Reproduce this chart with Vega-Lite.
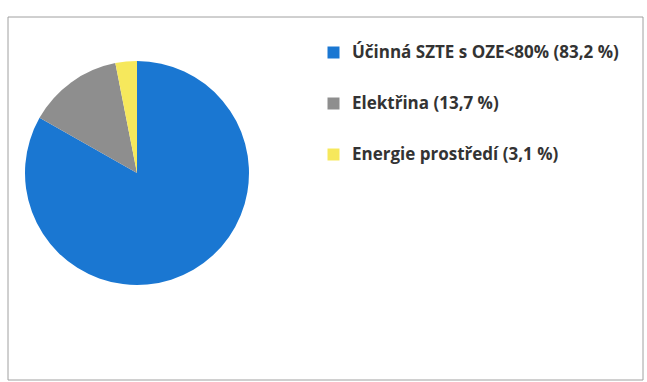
{
  "$schema": "https://vega.github.io/schema/vega-lite/v6.json",
  "width": 635,
  "height": 363,
  "autosize": "none",
  "padding": {"left": 8, "top": 17, "right": 4, "bottom": 2},
  "background": "white",
  "config": {"view": {"stroke": null}},
  "data": {"values": [
    {"kategorie": "Účinná SZTE s OZE<80% (83,2 %)", "podil": 83.2, "poradi": 1},
    {"kategorie": "Elektřina (13,7 %)", "podil": 13.7, "poradi": 2},
    {"kategorie": "Energie prostředí (3,1 %)", "podil": 3.1, "poradi": 3}
  ]},
  "layer": [
    {
      "data": {"values": [{"ram": 1}]},
      "mark": {"type": "rect", "fill": null, "stroke": "#a0a0a0", "strokeWidth": 1},
      "encoding": {}
    },
    {
      "mark": {"type": "arc", "outerRadius": 112, "x": 129, "y": 156},
      "encoding": {
        "theta": {"field": "podil", "type": "quantitative", "stack": true},
        "order": {"field": "poradi", "type": "quantitative"},
        "color": {
          "field": "kategorie",
          "type": "nominal",
          "sort": ["Účinná SZTE s OZE<80% (83,2 %)", "Elektřina (13,7 %)", "Energie prostředí (3,1 %)"],
          "scale": {
            "domain": ["Účinná SZTE s OZE<80% (83,2 %)", "Elektřina (13,7 %)", "Energie prostředí (3,1 %)"],
            "range": ["#1a77d2", "#8e8e8e", "#f6e85c"]
          },
          "legend": {
            "title": null,
            "orient": "none",
            "legendX": 317,
            "legendY": 27,
            "symbolType": "square",
            "symbolSize": 144,
            "symbolStrokeWidth": 0,
            "labelFont": "Open Sans",
            "labelFontWeight": "bold",
            "labelFontSize": 17,
            "labelColor": "#333333",
            "labelOffset": 10,
            "rowPadding": 33,
            "labelLimit": 400
          }
        }
      }
    }
  ]
}
